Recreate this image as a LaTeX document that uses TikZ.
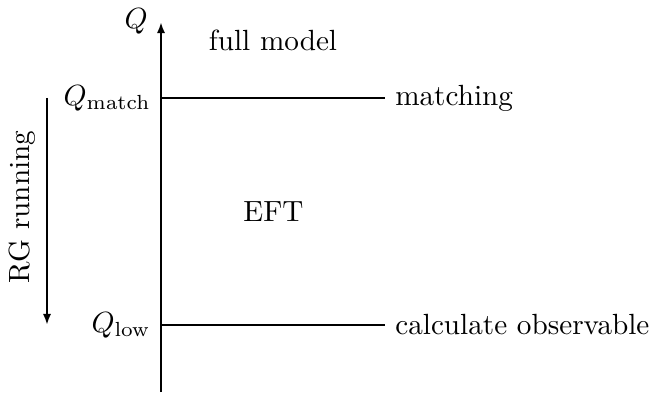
\documentclass[tikz,border=0pt]{standalone}
\usetikzlibrary{arrows.meta}
\begin{document}
\begin{tikzpicture}[x=0.3425pt,y=-0.3425pt,
  ln/.style={line width=0.7pt},
  arr/.style={line width=0.7pt,-{Latex[length=3.8pt,width=2.8pt]}},
  lbl/.style={inner sep=0pt}]
\useasboundingbox (0,0) rectangle (652,396);
\coordinate (axb) at (161,392);
\coordinate (axt) at (161,22);
\coordinate (m0) at (161,98);
\coordinate (m1) at (385,98);
\coordinate (l0) at (161,325);
\coordinate (l1) at (385,325);
\coordinate (r0) at (47,98);
\coordinate (r1) at (47,325);
\draw[arr] (axb) -- (axt);
\draw[ln] (m0) -- (m1);
\draw[ln] (l0) -- (l1);
\draw[arr] (r0) -- (r1);
\node[anchor=east] (q) at (158,21) {$Q$};
\node[anchor=east] (qm) at (m0) {$Q_{\mathrm{match}}$};
\node[anchor=east] (ql) at (l0) {$Q_{\mathrm{low}}$};
\node[anchor=west] (tm) at (m1) {matching};
\node[anchor=west] (tl) at (l1) {calculate observable};
\node (fm) at (273,40) {full model};
\node (eft) at (273.5,212) {EFT};
\node[rotate=90] (rg) at (22,207) {RG running};
\end{tikzpicture}
\end{document}
